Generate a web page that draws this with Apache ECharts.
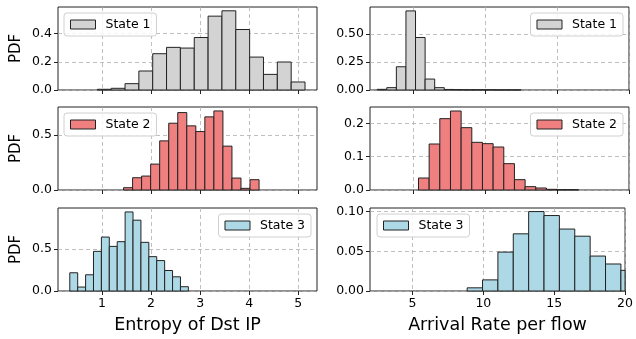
<!DOCTYPE html>
<html><head><meta charset="utf-8">
<script src="https://cdn.jsdelivr.net/npm/echarts@6/dist/echarts.min.js"></script>
<style>html,body{margin:0;padding:0;background:#fff}#c{width:636px;height:339px}</style>
</head><body><div id="c"></div>
<script>
// ---- data ----
const entropyTicks = [1, 2, 3, 4, 5];
const rateTicks = [5, 10, 15, 20];

const entropyState1Start = 0.906, entropyState1Width = 0.282;
const entropyState1 = [0.005, 0.012, 0.045, 0.135, 0.258, 0.303, 0.298, 0.373, 0.525, 0.563, 0.430, 0.234, 0.111, 0.199, 0.057];
const entropyState2Start = 1.44, entropyState2Width = 0.184;
const entropyState2 = [0.021, 0.112, 0.127, 0.236, 0.448, 0.609, 0.706, 0.585, 0.533, 0.667, 0.721, 0.400, 0.109, 0.015, 0.094];
const entropyState3Start = 0.345, entropyState3Width = 0.161;
const entropyState3 = [0.217, 0.047, 0.193, 0.472, 0.642, 0.531, 0.587, 0.941, 0.843, 0.579, 0.409, 0.362, 0.244, 0.169, 0.051];

const rateState1Start = 2.5, rateState1Width = 0.666;
const rateState1 = [0.006, 0.021, 0.208, 0.708, 0.470, 0.098, 0.021, 0.005, 0.003, 0.002, 0.002, 0.002, 0.001, 0.001, 0.001];
const rateState2Start = 5.37, rateState2Width = 0.741;
const rateState2 = [0.036, 0.138, 0.214, 0.237, 0.187, 0.143, 0.139, 0.129, 0.079, 0.031, 0.010, 0.006, 0.002, 0.001, 0.001];
const rateState3Start = 8.857, rateState3Width = 1.085;
const rateState3 = [0.004, 0.014, 0.049, 0.072, 0.100, 0.095, 0.078, 0.069, 0.044, 0.034, 0.026];

const yTicksL = [[0, 0.2, 0.4], [0, 0.5], [0, 0.5]];
const yTicksR = [[0, 0.25, 0.5], [0, 0.1, 0.2], [0, 0.05, 0.10]];
const yDecL = [1, 1, 1];
const yDecR = [2, 1, 2];
const yMaxL = [0.59, 0.757, 0.988];
const yMaxR = [0.743, 0.249, 0.1045];

const colors = { 'State 1': '#d3d3d3', 'State 2': '#f08080', 'State 3': '#add8e6' };
// ---- chart ----
const FONT = 'DejaVu Sans';
const rowsTop = [7, 107, 208];
const rowH = 83;
const colLeft = [58, 370];
const colW = [259, 259];

const grids = [], xAxes = [], yAxes = [], series = [];
function addPanel(gi, row, col, xmin, xmax, xticks, yticks, ydec, ymax, xname) {
  grids.push({ left: colLeft[col], top: rowsTop[row], width: colW[col], height: rowH,
    show: true, borderColor: '#222', borderWidth: 1, backgroundColor: '#fff' });
  xAxes.push({ type: 'value', gridIndex: gi, min: xmin, max: xmax,
    axisLine: { show: false },
    axisTick: { show: true, length: 4, lineStyle: { color: '#222' }, customValues: xticks },
    axisLabel: { show: row === 2, customValues: xticks, fontFamily: FONT, fontSize: 12.5, color: '#000', margin: 6 },
    splitLine: { show: true, lineStyle: { color: '#b0b0b0', type: [4, 3], width: 0.8 } },
    name: row === 2 ? xname : '', nameLocation: 'middle', nameGap: 25,
    nameTextStyle: { fontFamily: FONT, fontSize: 17.5, color: '#000' } });
  yAxes.push({ type: 'value', gridIndex: gi, min: 0, max: ymax,
    axisLine: { show: false },
    axisTick: { show: true, length: 4, lineStyle: { color: '#222' }, customValues: yticks },
    axisLabel: { customValues: yticks, fontFamily: FONT, fontSize: 12.5, color: '#000', margin: 6,
      formatter: v => v.toFixed(ydec) },
    splitLine: { show: true, lineStyle: { color: '#b0b0b0', type: [4, 3], width: 0.8 } },
    name: col === 0 ? 'PDF' : '', nameLocation: 'middle', nameGap: 34, nameRotate: 90,
    nameTextStyle: { fontFamily: FONT, fontSize: 15, color: '#000' } });
}
function hist(gi, name, start, width, heights) {
  const color = colors[name];
  series.push({ type: 'custom', name, xAxisIndex: gi, yAxisIndex: gi,
    itemStyle: { color, borderColor: '#222', borderWidth: 1 },
    encode: { x: [0, 1], y: 2 },
    data: heights.map((h, i) => [start + i * width, start + (i + 1) * width, h]),
    renderItem(params, api) {
      const p0 = api.coord([api.value(0), api.value(2)]);
      const p1 = api.coord([api.value(1), 0]);
      const cs = params.coordSys;
      const shape = echarts.graphic.clipRectByRect(
        { x: p0[0], y: p0[1], width: p1[0] - p0[0], height: p1[1] - p0[1] },
        { x: cs.x, y: cs.y - 1, width: cs.width, height: cs.height + 1 });
      if (!shape) return;
      return { type: 'rect', shape, style: { fill: color, stroke: '#222', lineWidth: 1 } };
    }, z: 3 });
}
const eMin = 0.105, eMax = 5.38;
addPanel(0, 0, 0, eMin, eMax, entropyTicks, yTicksL[0], yDecL[0], yMaxL[0], 'Entropy of Dst IP');
addPanel(1, 1, 0, eMin, eMax, entropyTicks, yTicksL[1], yDecL[1], yMaxL[1], 'Entropy of Dst IP');
addPanel(2, 2, 0, eMin, eMax, entropyTicks, yTicksL[2], yDecL[2], yMaxL[2], 'Entropy of Dst IP');
addPanel(3, 0, 1, 2, 20, rateTicks, yTicksR[0], yDecR[0], yMaxR[0], 'Arrival Rate per flow');
addPanel(4, 1, 1, 2, 20, rateTicks, yTicksR[1], yDecR[1], yMaxR[1], 'Arrival Rate per flow');
addPanel(5, 2, 1, 2, 20, rateTicks, yTicksR[2], yDecR[2], yMaxR[2], 'Arrival Rate per flow');

hist(0, 'State 1', entropyState1Start, entropyState1Width, entropyState1);
hist(1, 'State 2', entropyState2Start, entropyState2Width, entropyState2);
hist(2, 'State 3', entropyState3Start, entropyState3Width, entropyState3);
hist(3, 'State 1', rateState1Start, rateState1Width, rateState1);
hist(4, 'State 2', rateState2Start, rateState2Width, rateState2);
hist(5, 'State 3', rateState3Start, rateState3Width, rateState3);

function leg(name, pos) {
  return Object.assign({ data: [name], selectedMode: false, orient: 'horizontal',
    icon: 'rect', itemWidth: 25, itemHeight: 9,
    itemStyle: { borderColor: '#222', borderWidth: 1 },
    textStyle: { fontFamily: FONT, fontSize: 12.5, color: '#000', padding: [0, 0, 0, 5] },
    padding: [5, 6, 5, 6], backgroundColor: 'rgba(255,255,255,0.8)',
    borderColor: '#d0d0d0', borderWidth: 1, borderRadius: 3, z: 10 }, pos);
}
const legends = [
  leg('State 1', { left: 64, top: 13 }),
  leg('State 2', { left: 64, top: 113 }),
  leg('State 3', { right: 325, top: 214 }),
  leg('State 1', { right: 13, top: 13 }),
  leg('State 2', { right: 13, top: 113 }),
  leg('State 3', { left: 377, top: 214 })
];

const chart = echarts.init(document.getElementById('c'), null, { renderer: 'canvas' });
chart.setOption({ animation: false, backgroundColor: '#fff', textStyle: { fontFamily: FONT },
  grid: grids, xAxis: xAxes, yAxis: yAxes, series, legend: legends });
</script></body></html>
